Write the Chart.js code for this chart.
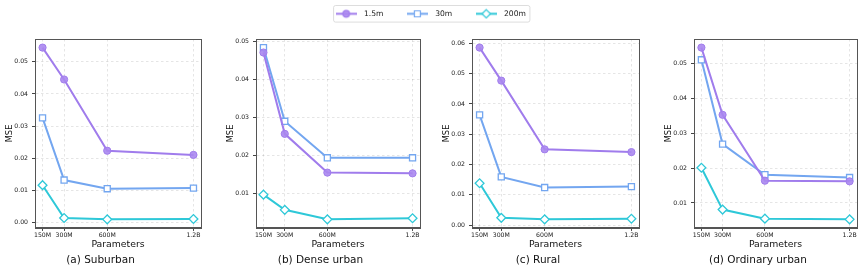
<!DOCTYPE html>
<html>
<head>
<meta charset="utf-8">
<script src="https://cdn.jsdelivr.net/npm/chart.js@4.4.1/dist/chart.umd.min.js"></script>
<style>
  html, body { margin: 0; padding: 0; background: #ffffff; }
  #wrap { position: relative; width: 864px; height: 272px; overflow: hidden; background: #ffffff; }
  canvas { position: absolute; }
</style>
</head>
<body>
<div id="wrap">
  <canvas id="cA" width="237" height="272"></canvas>
  <canvas id="cB" width="216" height="272"></canvas>
  <canvas id="cC" width="229" height="272"></canvas>
  <canvas id="cD" width="219" height="272"></canvas>
  <canvas id="cL" width="858" height="140"></canvas>
</div>
<script>
// ---------------- data ----------------
const params = [150, 300, 600, 1200];
const xTickLabels = ['150M', '300M', '600M', '1.2B'];
const seriesNames = ['1.5m', '30m', '200m'];
const yTickValues = [0.00, 0.01, 0.02, 0.03, 0.04, 0.05, 0.06];

const suburban15  = [0.0544, 0.0445, 0.0224, 0.0211];
const suburban30  = [0.0326, 0.0133, 0.0106, 0.0108];
const suburban200 = [0.0117, 0.0015, 0.0011, 0.0012];

const dense15  = [0.0471, 0.0257, 0.0155, 0.0153];
const dense30  = [0.0484, 0.0290, 0.0194, 0.0194];
const dense200 = [0.0097, 0.0057, 0.0032, 0.0035];

const rural15  = [0.0586, 0.0477, 0.0250, 0.0241];
const rural30  = [0.0364, 0.0159, 0.0124, 0.0127];
const rural200 = [0.0138, 0.0024, 0.0019, 0.0021];

const ordinary15  = [0.0546, 0.0353, 0.0164, 0.0162];
const ordinary30  = [0.0511, 0.0269, 0.0181, 0.0173];
const ordinary200 = [0.0201, 0.0081, 0.0055, 0.0053];

const panelTitles = ['(a) Suburban', '(b) Dense urban', '(c) Rural', '(d) Ordinary urban'];

// ---------------- styles ----------------
const FONT = "'DejaVu Sans', 'Liberation Sans', sans-serif";
const colors = ['#a07cec', '#73a6f0', '#2ec8d8'];
const pointFill = ['rgba(170,135,240,0.9)', '#ffffff', '#ffffff'];
const pointStyles = ['circle', 'rect', 'rectRot'];
const pointRadii = [3.6, 4.3, 4.4];

const xMin = 97.5, xMax = 1252.5;

const layoutSpec = [
  { id: 'cA', left: 0,   plotW: 166, right: 36 },
  { id: 'cB', left: 221, plotW: 164, right: 17 },
  { id: 'cC', left: 437, plotW: 167, right: 25 },
  { id: 'cD', left: 659, plotW: 163, right: 21 }
];
const Y_AXIS_W = 35;

const framePlugin = {
  id: 'frame',
  afterDraw(chart) {
    const { ctx, chartArea: a } = chart;
    ctx.save();
    ctx.strokeStyle = '#555555';
    ctx.lineWidth = 1;
    ctx.strokeRect(Math.round(a.left) + 0.5, Math.round(a.top) + 0.5,
                   Math.round(a.right - a.left), Math.round(a.bottom - a.top));
    ctx.restore();
  }
};

function toPoints(arr) {
  return arr.map((v, i) => ({ x: params[i], y: v }));
}

function makePanel(spec, title, s15, s30, s200) {
  const all = [...s15, ...s30, ...s200];
  const lo = Math.min(...all), hi = Math.max(...all);
  const m = (hi - lo) * 0.05;
  const yMin = lo - m, yMax = hi + m;
  const cv = document.getElementById(spec.id);
  cv.width = Y_AXIS_W + spec.plotW + spec.right;
  cv.style.left = spec.left + 'px';
  cv.style.top = '0px';
  const seriesData = [s15, s30, s200];
  const gridCommon = {
    color: 'rgba(0,0,0,0.13)',
    lineWidth: 0.8,
    tickLength: 3,
    tickColor: '#444444',
    tickWidth: 1,
    tickBorderDash: []
  };
  const borderCommon = { color: '#555555', width: 1, dash: [2.5, 2.5] };
  return new Chart(cv, {
    type: 'line',
    data: {
      datasets: seriesNames.map((name, i) => ({
        label: name,
        data: toPoints(seriesData[i]),
        borderColor: colors[i],
        backgroundColor: pointFill[i],
        borderWidth: 2,
        pointStyle: pointStyles[i],
        pointRadius: pointRadii[i],
        pointBorderWidth: i === 0 ? 1 : 1.3,
        pointBorderColor: colors[i],
        pointBackgroundColor: pointFill[i],
        tension: 0,
        fill: false,
        clip: false
      }))
    },
    options: {
      responsive: false,
      animation: false,
      events: [],
      layout: { padding: { left: 0, right: spec.right, top: 39, bottom: 0 } },
      plugins: {
        legend: { display: false },
        tooltip: { enabled: false },
        title: {
          display: true,
          text: title,
          position: 'bottom',
          color: '#111111',
          font: { family: FONT, size: 10.5, weight: 'normal', lineHeight: 1.15 },
          padding: { top: 4, bottom: 6 }
        }
      },
      scales: {
        x: {
          type: 'linear',
          min: xMin,
          max: xMax,
          afterBuildTicks: s => { s.ticks = params.map(v => ({ value: v })); },
          afterFit: s => { s.height = 22; },
          ticks: {
            callback: (v, i) => xTickLabels[i],
            font: { family: FONT, size: 6.2 },
            color: '#1a1a1a',
            padding: 1,
            maxRotation: 0,
            minRotation: 0,
            autoSkip: false
          },
          grid: gridCommon,
          border: borderCommon,
          title: {
            display: true,
            text: 'Parameters',
            color: '#111111',
            font: { family: FONT, size: 9.3 },
            padding: 0
          }
        },
        y: {
          type: 'linear',
          min: yMin,
          max: yMax,
          afterBuildTicks: s => {
            s.ticks = yTickValues.filter(v => v >= s.min - 1e-9 && v <= s.max + 1e-9).map(v => ({ value: v }));
          },
          afterFit: s => { s.width = Y_AXIS_W; },
          ticks: {
            callback: v => Number(v).toFixed(2),
            font: { family: FONT, size: 6.2 },
            color: '#1a1a1a',
            padding: 4
          },
          grid: gridCommon,
          border: borderCommon,
          title: {
            display: true,
            text: 'MSE',
            color: '#111111',
            font: { family: FONT, size: 8.3 },
            padding: { top: 5, bottom: 0 }
          }
        }
      }
    },
    plugins: [framePlugin]
  });
}

makePanel(layoutSpec[0], panelTitles[0], suburban15, suburban30, suburban200);
makePanel(layoutSpec[1], panelTitles[1], dense15, dense30, dense200);
makePanel(layoutSpec[2], panelTitles[2], rural15, rural30, rural200);
makePanel(layoutSpec[3], panelTitles[3], ordinary15, ordinary30, ordinary200);

// ---------------- legend ----------------
function legendImage(i) {
  const c = document.createElement('canvas');
  c.width = 21; c.height = 11;
  const g = c.getContext('2d');
  g.strokeStyle = colors[i];
  g.lineWidth = 2;
  g.beginPath(); g.moveTo(0, 5.5); g.lineTo(21, 5.5); g.stroke();
  g.lineWidth = 1.2;
  g.fillStyle = pointFill[i];
  g.beginPath();
  if (i === 0) {
    g.arc(10.5, 5.5, 3.4, 0, Math.PI * 2);
  } else if (i === 1) {
    g.rect(7.5, 2.5, 6, 6);
  } else {
    g.moveTo(10.5, 1.3); g.lineTo(14.7, 5.5); g.lineTo(10.5, 9.7); g.lineTo(6.3, 5.5); g.closePath();
  }
  g.fill(); g.stroke();
  return c;
}
const legendImgs = seriesNames.map((n, i) => legendImage(i));
const LEG_FONT = 7.6, LEG_PAD = 20, LEG_BOX = 28;

const legendBoxPlugin = {
  id: 'legendBox',
  afterDraw(chart) {
    const { ctx } = chart;
    const L = chart.legend;
    ctx.save();
    ctx.font = `${LEG_FONT}px ${FONT}`;
    const widths = seriesNames.map(n => LEG_BOX + LEG_FONT / 2 + ctx.measureText(n).width);
    const rowW = widths.reduce((a, b) => a + b, 0) + LEG_PAD * (seriesNames.length - 1);
    const cx = (L.left + L.right) / 2;
    const x0 = cx - rowW / 2 + 1.5;
    const x1 = cx + rowW / 2 + 4;
    const cy = L.top + LEG_PAD + LEG_FONT / 2;
    const y0 = cy - 8.3, y1 = cy + 8.3;
    ctx.strokeStyle = '#d4d4d4';
    ctx.lineWidth = 0.8;
    ctx.beginPath();
    ctx.roundRect(x0, y0, x1 - x0, y1 - y0, 2);
    ctx.stroke();
    ctx.restore();
  }
};

const cl = document.getElementById('cL');
cl.style.left = '0px';
cl.style.top = (14 - LEG_PAD - LEG_FONT / 2) + 'px';
new Chart(cl, {
  type: 'line',
  data: { datasets: seriesNames.map((n, i) => ({ label: n, data: [], borderColor: colors[i] })) },
  options: {
    responsive: false,
    animation: false,
    events: [],
    layout: { padding: 0 },
    scales: { x: { display: false }, y: { display: false } },
    plugins: {
      tooltip: { enabled: false },
      legend: {
        display: true,
        position: 'top',
        align: 'center',
        labels: {
          usePointStyle: true,
          pointStyleWidth: LEG_BOX,
          padding: LEG_PAD,
          color: '#1a1a1a',
          font: { family: FONT, size: LEG_FONT },
          generateLabels: () => seriesNames.map((n, i) => ({
            text: n,
            pointStyle: legendImgs[i],
            fillStyle: colors[i],
            strokeStyle: colors[i],
            lineWidth: 0,
            hidden: false,
            datasetIndex: i,
            fontColor: '#1a1a1a'
          }))
        }
      }
    }
  },
  plugins: [legendBoxPlugin]
});
</script>
</body>
</html>
